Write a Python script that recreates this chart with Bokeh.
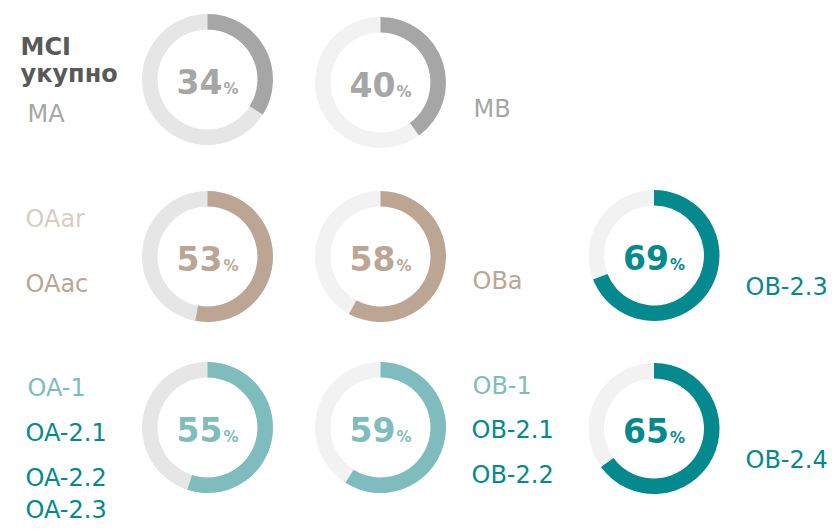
import math
from bokeh.plotting import figure
from bokeh.models import Range1d, ColumnDataSource
from bokeh.core.properties import value
from bokeh.embed import file_html
from bokeh.resources import INLINE

# ---- data ----
donut_names = ["MA", "MB", "OAac", "OBa", "OB-2.3", "OA-2", "OB-2", "OB-2.4"]
donut_values = [34, 40, 53, 58, 69, 55, 59, 65]

label_texts = ["MCI", "укупно", "MA", "MB", "OAar", "OAac", "OBa", "OB-2.3",
               "OA-1", "OA-2.1", "OA-2.2", "OA-2.3", "OB-1", "OB-2.1", "OB-2.2", "OB-2.4"]

# ---- styles / layout ----
GRAY = "#a6a6a6"
DARK = "#595959"
TAN = "#bca693"
TAN_L = "#d8cdc2"
TEAL_L = "#7fbcbd"
TEAL = "#03898e"
TRACK1 = "#e6e6e6"
TRACK2 = "#f2f2f2"

# picture-pixel centers of the donuts
centers = [(207, 79), (380, 82), (207, 256), (380, 256), (653.5, 255),
           (207, 427), (380, 427), (653.5, 428)]
arc_colors = [GRAY, GRAY, TAN, TAN, TEAL, TEAL_L, TEAL_L, TEAL]
track_colors = [TRACK1, TRACK2, TRACK1, TRACK2, TRACK2, TRACK1, TRACK2, TRACK2]

# (left x, vertical middle y) in picture pixels
label_pos = [(20, 46), (20, 73), (27, 113), (473, 108), (25, 218), (25, 283),
             (472, 280), (745, 286), (27, 387), (25, 432), (25, 477), (25, 509),
             (472, 385), (471, 429), (471, 474), (745, 459)]
label_colors = [DARK, DARK, GRAY, GRAY, TAN_L, TAN, TAN, TEAL,
                TEAL_L, TEAL, TEAL, TEAL, TEAL_L, TEAL, TEAL, TEAL]
label_bold = [True, True] + [False] * 14

W, H = 829, 524


def sy(y):
    return H - y


p = figure(width=W, height=H, output_backend="svg", toolbar_location=None,
           x_range=Range1d(0, W), y_range=Range1d(0, H),
           min_border=0, outline_line_color=None, background_fill_color="white",
           border_fill_color="white")
p.axis.visible = False
p.grid.visible = False

R_OUT, R_IN = 65.5, 50

xs = [c[0] for c in centers]
ys = [sy(c[1]) for c in centers]

track = ColumnDataSource(dict(x=xs, y=ys, c=track_colors))
p.annulus(x="x", y="y", inner_radius=R_IN, outer_radius=R_OUT,
          fill_color="c", line_color=None, source=track)

starts = [math.pi / 2 - 2 * math.pi * v / 100 for v in donut_values]
ends = [math.pi / 2] * len(donut_values)
arcs = ColumnDataSource(dict(x=xs, y=ys, s=starts, e=ends, c=arc_colors))
p.annular_wedge(x="x", y="y", inner_radius=R_IN, outer_radius=R_OUT,
                start_angle="s", end_angle="e", direction="anticlock",
                fill_color="c", line_color=None, source=arcs)

# percentage numbers
num = ColumnDataSource(dict(x=[x + 15 for x in xs], y=[y - 2 for y in ys],
                            t=[str(v) for v in donut_values], c=arc_colors))
p.text(x="x", y="y", text="t", text_color="c", source=num,
       text_font=value("DejaVu Sans"), text_font_style="bold",
       text_font_size="33px", text_align="right", text_baseline="middle")
pct = ColumnDataSource(dict(x=[x + 16 for x in xs], y=[y - 9 for y in ys],
                            t=["%"] * len(xs), c=arc_colors))
p.text(x="x", y="y", text="t", text_color="c", source=pct,
       text_font=value("DejaVu Sans"), text_font_style="bold",
       text_font_size="15px", text_align="left", text_baseline="middle")

# labels
for bold in (True, False):
    idx = [i for i in range(len(label_texts)) if label_bold[i] == bold]
    src = ColumnDataSource(dict(x=[label_pos[i][0] for i in idx],
                                y=[sy(label_pos[i][1]) for i in idx],
                                t=[label_texts[i] for i in idx],
                                c=[label_colors[i] for i in idx]))
    p.text(x="x", y="y", text="t", text_color="c", source=src,
           text_font=value("DejaVu Sans"),
           text_font_style="bold" if bold else "normal",
           text_font_size="24px",
           text_align="left", text_baseline="middle")

open("out.html", "w").write(file_html(p, INLINE))
